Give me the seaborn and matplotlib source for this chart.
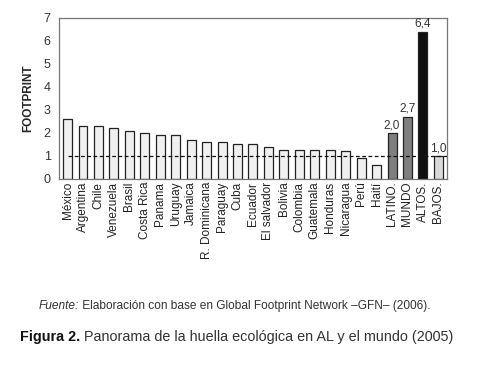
import numpy as np
import pandas as pd
import matplotlib
matplotlib.use("Agg")
import matplotlib.pyplot as plt
import seaborn as sns

countries = ["México", "Argentina", "Chile", "Venezuela", "Brasil", "Costa Rica",
             "Panama", "Uruguay", "Jamaica", "R. Dominicana", "Paraguay", "Cuba",
             "Ecuador", "El salvador", "Bolivia", "Colombia", "Guatemala", "Honduras",
             "Nicaragua", "Perú", "Haití", "LATINO.", "MUNDO", "ALTOS.", "BAJOS."]
footprint = [2.6, 2.3, 2.3, 2.2, 2.1, 2.0, 1.9, 1.9, 1.7, 1.6, 1.6, 1.5,
             1.5, 1.4, 1.25, 1.25, 1.25, 1.25, 1.2, 0.9, 0.6, 2.0, 2.7, 6.4, 1.0]
labelled = {"LATINO.": "2,0", "MUNDO": "2,7", "ALTOS.": "6,4", "BAJOS.": "1,0"}

colors = ["#f0f0f0"] * 21 + ["#7f7f7f", "#7f7f7f", "#101010", "#d9d9d9"]

df = pd.DataFrame({"pais": countries, "footprint": footprint})

sns.set_style("white")
plt.rcParams["font.family"] = ["Liberation Sans", "DejaVu Sans"]

fig = plt.figure(figsize=(4.8, 3.72), dpi=100)
ax = fig.add_axes([0.123, 0.519, 0.808, 0.433])

sns.barplot(data=df, x="pais", y="footprint", hue="pais", palette=colors,
            legend=False, width=0.58, edgecolor="#222222", linewidth=0.9, ax=ax)

ax.hlines(1.0, 0, len(countries) - 0.4, colors="#111111", linestyles=(0, (3, 2)),
          linewidth=0.9, zorder=5)

for i, (c, v) in enumerate(zip(countries, footprint)):
    if c in labelled:
        ax.text(i, v + 0.08, labelled[c], ha="center", va="bottom", fontsize=8.5,
                color="#333333")

ax.set_xlim(-0.55, len(countries) - 0.45)
ax.set_ylim(0, 7)
ax.set_yticks(range(8))
ax.set_xlabel("")
ax.set_ylabel("FOOTPRINT", fontsize=8.5, fontweight="bold", labelpad=7)
ax.tick_params(axis="y", labelsize=9, length=0, pad=6, labelcolor="#333333")
ax.tick_params(axis="x", labelsize=8.5, rotation=90, length=0, pad=2,
               labelcolor="#222222")
ax.set_xticks(np.arange(len(countries) + 1) - 0.5, minor=True)
ax.tick_params(axis="x", which="minor", length=3, color="#888888")
for s in ax.spines.values():
    s.set_color("#777777")
    s.set_linewidth(0.9)

# caption lines
t1 = fig.text(39 / 480, 1 - 309 / 372, "Fuente:", ha="left", va="baseline",
              fontsize=8.6, style="italic", color="#333333")
plt.annotate(" Elaboración con base en Global Footprint Network –GFN– (2006).",
             xy=(1, 0), xycoords=t1, ha="left", va="bottom", fontsize=8.6,
             color="#333333", annotation_clip=False)

t2 = fig.text(20 / 480, 1 - 341 / 372, "Figura 2.", ha="left", va="baseline",
              fontsize=10.4, fontweight="bold", color="#111111")
plt.annotate(" Panorama de la huella ecológica en AL y el mundo (2005)",
             xy=(1, 0), xycoords=t2, ha="left", va="bottom", fontsize=10.4,
             color="#333333", annotation_clip=False)

plt.savefig("out.png", dpi=100)
